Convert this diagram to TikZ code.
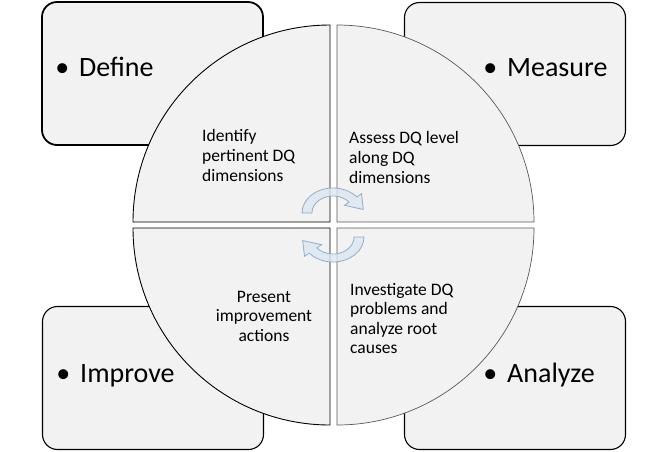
\documentclass[tikz,border=0pt]{standalone}
\usepackage{fontspec}
\setmainfont{Carlito}
\definecolor{pane}{HTML}{F2F2F2}
\definecolor{arrowfill}{RGB}{220,230,242}
\definecolor{arrowline}{RGB}{150,172,200}
\begin{document}
\begin{tikzpicture}[x=1pt,y=-1pt,
  box/.style={draw=black, fill=pane, rounded corners=15pt, line width=1.1pt,
    minimum width=221pt, minimum height=143pt, inner sep=0pt},
  quadl/.style={fill=pane, draw=black, line width=0.9pt},
  quadr/.style={fill=pane, draw=black!65, line width=0.7pt},
  big/.style={font=\fontsize{28}{34}\selectfont, anchor=base west, inner sep=0pt},
  small/.style={font=\fontsize{17.5}{19.6}\selectfont, inner sep=0pt},
  cyc/.style={fill=arrowfill, draw=arrowline, line width=0.8pt, fill opacity=0.8}
]
\useasboundingbox (0,0) rectangle (667,451);

% corner boxes
\node[box, line width=1.8pt] (define) at (152.5,73.5) {};
\node[box] (measure) at (515,74) {};
\node[box] (improve) at (153,378) {};
\node[box] (analyze) at (515,378) {};

% circle quadrants
\draw[quadl] (330,222) -- (133,222) arc[start angle=180, end angle=270, radius=197] -- cycle;
\draw[quadr] (337,222) -- (337,25) arc[start angle=270, end angle=360, radius=197] -- cycle;
\draw[quadr] (337,228) -- (534,228) arc[start angle=0, end angle=90, radius=197] -- cycle;
\draw[quadl] (330,228) -- (330,425) arc[start angle=90, end angle=180, radius=197] -- cycle;

% circular arrows
\begin{scope}[shift={(333,213)}, xscale=1.24]
  \draw[cyc] (180:25) arc[start angle=180, end angle=320, radius=25] -- (320:30)
    -- (24.45,-3.54) -- (320:12) -- (320:17) arc[start angle=320, end angle=180, radius=17] -- cycle;
\end{scope}
\begin{scope}[shift={(333,237)}, rotate=180, xscale=1.24]
  \draw[cyc] (180:25) arc[start angle=180, end angle=320, radius=25] -- (320:30)
    -- (24.45,-3.54) -- (320:12) -- (320:17) arc[start angle=320, end angle=180, radius=17] -- cycle;
\end{scope}

% box labels
\node[big] (tdefine) at (79,76) {\llap{\textbullet\hspace{10pt}}Define};
\node[big] (tmeasure) at (507,76) {\llap{\textbullet\hspace{10pt}}Measure};
\node[big] (timprove) at (80,382) {\llap{\textbullet\hspace{10pt}}Improve};
\node[big] (tanalyze) at (507,382) {\llap{\textbullet\hspace{10pt}}Analyze};

% quadrant texts
\node[small, anchor=north west, align=left] (qdefine) at (202,129.6)
  {Identify\\pertinent DQ\\dimensions};
\node[small, anchor=north west, align=left] (qmeasure) at (349,131.6)
  {Assess DQ level\\along DQ\\dimensions};
\node[small, anchor=north, align=center] (qimprove) at (264,290.7)
  {Present\\improvement\\actions};
\node[small, anchor=north west, align=left] (qanalyze) at (350,282.7)
  {Investigate DQ\\problems and\\analyze root\\causes};
\end{tikzpicture}
\end{document}
